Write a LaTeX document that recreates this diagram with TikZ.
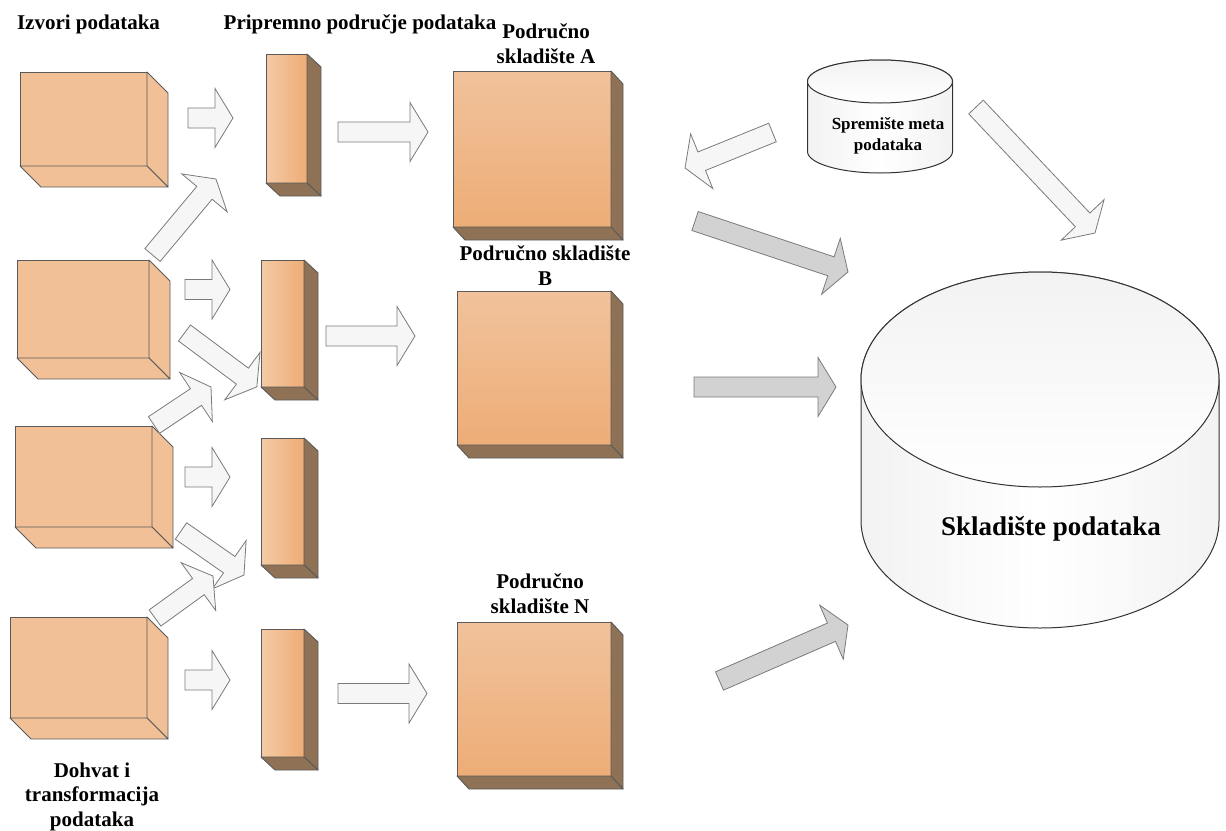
\documentclass[tikz,border=0pt]{standalone}
\usepackage{fontspec}
\setmainfont{Liberation Serif}
\usetikzlibrary{calc}

\definecolor{peach}{HTML}{F2C096}
\definecolor{barlight}{HTML}{F4CAA6}
\definecolor{bardark}{HTML}{EEAC75}
\definecolor{marttop}{HTML}{F1C29B}
\definecolor{martbot}{HTML}{EDAD77}
\definecolor{brownside}{HTML}{8F7255}
\definecolor{edgegray}{HTML}{5A5A5A}
\definecolor{arrowedge}{HTML}{7A7A7A}
\definecolor{arrowwhite}{HTML}{F6F6F6}
\definecolor{arrowgray}{HTML}{D2D2D2}

% side and bottom face behind a front node: name, dx, dy, colour
\newcommand{\depthfaces}[4]{%
  \draw[face, fill=#4] (#1.north east) -- ++(#2,#3) -- ([shift={(#2,#3)}]#1.south east) -- (#1.south east) -- cycle;
  \draw[face, fill=#4] (#1.south west) -- ([shift={(#2,#3)}]#1.south west) -- ([shift={(#2,#3)}]#1.south east) -- (#1.south east) -- cycle;
}
% upright cylinder filling a node: name, x radius, y radius (pt)
\newcommand{\storecyl}[3]{%
  \path[store] ([yshift=-#3pt]#1.north west) -- ([yshift=#3pt]#1.south west)
    arc[start angle=180, end angle=360, x radius=#2pt, y radius=#3pt]
    -- ([yshift=-#3pt]#1.north east)
    arc[start angle=0, end angle=180, x radius=#2pt, y radius=#3pt] -- cycle;
  \path[storetop] ([yshift=-#3pt]#1.north) ellipse [x radius=#2pt, y radius=#3pt];
}
% block arrow from tail coordinate to tip coordinate
\newcommand{\blockarrow}[3][warrow]{%
  \draw[#1] let \p1=($(#3)-(#2)$), \n1={atan2(\y1,\x1)}, \n2={veclen(\x1,\y1)} in
    [shift={(#2)}, rotate=\n1] (0,-10) -- ({\n2-18},-10) -- ({\n2-18},-29.5) -- (\n2,0)
    -- ({\n2-18},29.5) -- ({\n2-18},10) -- (0,10) -- cycle;
}

\begin{document}
\begin{tikzpicture}[x=1pt, y=-1pt]
    % Define Styles
        \tikzstyle{srcbox} = [rectangle, draw=edgegray, fill=peach, line width=0.9pt, inner sep=0pt, outer sep=0pt]
        \tikzstyle{stgbar} = [rectangle, draw=edgegray, left color=barlight, right color=bardark, line width=0.9pt, inner sep=0pt, outer sep=0pt]
        \tikzstyle{martbox} = [rectangle, draw=edgegray, top color=marttop, bottom color=martbot, line width=0.9pt, inner sep=0pt, outer sep=0pt]
        \tikzstyle{face} = [draw=edgegray, line width=0.9pt, line join=round]
        \tikzstyle{storebox} = [rectangle, inner sep=0pt, outer sep=0pt]
        \tikzstyle{store} = [draw=black!80, line width=1pt, left color=gray!10, right color=gray!10, middle color=white]
        \tikzstyle{storetop} = [draw=black!80, line width=1pt, top color=gray!10, bottom color=white]
        \tikzstyle{lbl} = [font=\fontsize{21}{24.5}\selectfont\bfseries, align=center, inner sep=0pt]
        \tikzstyle{warrow} = [draw=arrowedge, fill=arrowwhite, line width=0.8pt]
        \tikzstyle{garrow} = [draw=arrowedge, fill=arrowgray, line width=0.8pt]
        \useasboundingbox (0,0) rectangle (1226,830);
    % Place nodes
        \node [srcbox, minimum width=127, minimum height=94] (src1) at (83.5,119) {};
        \node [srcbox, minimum width=132, minimum height=98] (src2) at (83,309) {};
        \node [srcbox, minimum width=137, minimum height=101] (src3) at (83.5,476.5) {};
        \node [srcbox, minimum width=137, minimum height=101] (src4) at (78.5,667.5) {};
        \foreach \s in {src1,src2,src3,src4} {\depthfaces{\s}{21}{21}{peach}}

        \node [stgbar, minimum width=41, minimum height=129] (stg1) at (286.5,118.5) {};
        \node [stgbar, minimum width=43, minimum height=127] (stg2) at (282.5,323.5) {};
        \node [stgbar, minimum width=43, minimum height=127] (stg3) at (282.5,501.5) {};
        \node [stgbar, minimum width=43, minimum height=128] (stg4) at (282.5,693) {};
        \foreach \s in {stg1,stg2,stg3,stg4} {\depthfaces{\s}{14}{13}{brownside}}

        \node [martbox, minimum width=158, minimum height=156] (martA) at (532,149) {};
        \node [martbox, minimum width=154, minimum height=154] (martB) at (534,368) {};
        \node [martbox, minimum width=154, minimum height=154] (martN) at (534,699) {};
        \foreach \s in {martA,martB,martN} {\depthfaces{\s}{12}{13}{brownside}}

        \node [storebox, minimum width=145, minimum height=113] (meta) at (880,116.5) {};
        \storecyl{meta}{72.5}{21.5}
        \node [storebox, minimum width=358, minimum height=356] (dw) at (1040,450) {};
        \storecyl{dw}{179}{107.5}

    % Labels
        \node [lbl, anchor=base] (srclbl) at (88.5,29) {Izvori podataka};
        \node [lbl, anchor=base] (stglbl) at (360,29) {Pripremno područje podataka};
        \node [lbl, anchor=base] (martAlbl) at (546,63) {Područno\\skladište A};
        \node [lbl, anchor=base] (martBlbl) at (545,285) {Područno skladište\\B};
        \node [lbl, anchor=base] (martNlbl) at (540,613) {Područno\\skladište N};
        \node [lbl, anchor=base] (etllbl) at (92,826) {Dohvat i\\transformacija\\podataka};
        \node [lbl, font=\fontsize{17}{21}\selectfont\bfseries, anchor=base] (metalbl) at (888,150) {Spremište meta\\podataka};
        \node [lbl, font=\fontsize{27}{32}\selectfont\bfseries, anchor=base] (dwlbl) at (1051,535) {Skladište podataka};

    % Arrow ends
        \coordinate (a1t) at (188,118);    \coordinate (a1h) at (233,118);
        \coordinate (a2t) at (152.5,255);  \coordinate (a2h) at (216,179);
        \coordinate (a3t) at (185,289.5);  \coordinate (a3h) at (230,289.5);
        \coordinate (a4t) at (184.5,333);  \coordinate (a4h) at (257,387);
        \coordinate (a5t) at (154,425);    \coordinate (a5h) at (211,387);
        \coordinate (a6t) at (185,477);    \coordinate (a6h) at (230,477);
        \coordinate (a7t) at (181,531);    \coordinate (a7h) at (244,575);
        \coordinate (a8t) at (155,618);    \coordinate (a8h) at (213,576);
        \coordinate (a9t) at (185,680);    \coordinate (a9h) at (230,680);
        \coordinate (b1t) at (338,132);    \coordinate (b1h) at (428,132);
        \coordinate (b2t) at (326,336);    \coordinate (b2h) at (415,336);
        \coordinate (b3t) at (338,693.5);  \coordinate (b3h) at (427,693.5);
        \coordinate (m1t) at (772.5,132.5); \coordinate (m1h) at (685,168);
        \coordinate (m2t) at (976,107);    \coordinate (m2h) at (1095,233);
        \coordinate (g1t) at (695,221);    \coordinate (g1h) at (848,272);
        \coordinate (g2t) at (694,387);    \coordinate (g2h) at (836,387);
        \coordinate (g3t) at (719.5,681);  \coordinate (g3h) at (848,625);
    % Edges
        \foreach \a in {a1,a2,a3,a4,a5,a6,a7,a8,a9,b1,b2,b3,m1,m2} {\blockarrow{\a t}{\a h}}
        \foreach \a in {g1,g2,g3} {\blockarrow[garrow]{\a t}{\a h}}
\end{tikzpicture}
\end{document}
